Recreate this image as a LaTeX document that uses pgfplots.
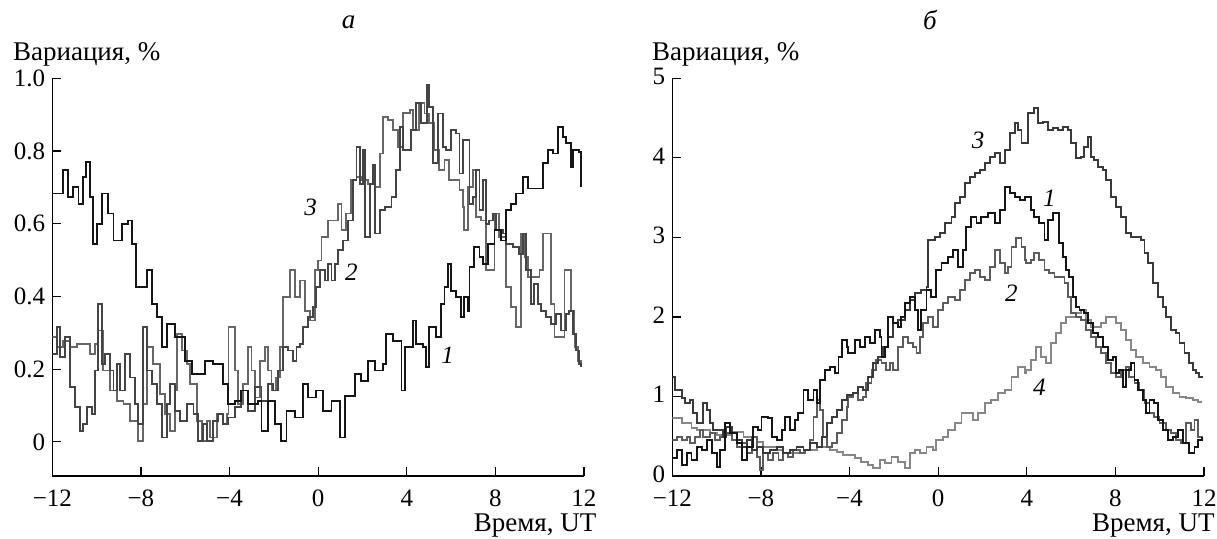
\documentclass[border=0pt]{standalone}
\usepackage{fontspec}
\setmainfont{Liberation Serif}
\usepackage{pgfplots}
\pgfplotsset{compat=1.18}
\definecolor{cA}{HTML}{151515}
\definecolor{cB}{HTML}{444444}
\definecolor{cC}{HTML}{666666}
\definecolor{rB}{HTML}{5C5C5C}
\definecolor{rC}{HTML}{3A3A3A}
\definecolor{rD}{HTML}{878787}
\pgfplotsset{
  panel/.style={
    scale only axis, width=265.85pt, height=198.85pt,
    axis lines=left, axis line style={-, line width=0.6pt, black},
    tick align=inside, major tick length=4.5pt,
    tick style={line width=0.6pt, black},
    xmin=-12, xmax=12, xtick={-12,-8,-4,0,4,8,12},
    xticklabels={−12,−8,−4,0,4,8,12},
    ticklabel style={font=\fontsize{12.5}{14}\selectfont},
    xticklabel style={yshift=-3.5pt},
    every axis plot/.append style={const plot, no marks, line width=0.9pt},
  },
}
\tikzset{lbl/.style={font=\fontsize{12.5}{14}\selectfont\itshape, inner sep=0}}
\begin{document}
\begin{tikzpicture}
\path[use as bounding box] (-26.15pt,-31pt) rectangle (582.35pt,238pt);
\begin{axis}[panel, ymin=-0.094, ymax=1.0, ytick={0,0.2,0.4,0.6,0.8,1.0},
  yticklabels={0,0.2,0.4,0.6,0.8,1.0}]
% curve 3 (light gray)
\addplot[cC] table {
-12 0.288
-11.80 0.260
-11.50 0.278
-11.20 0.260
-10.90 0.269
-10.30 0.242
-10.07 0.269
-9.92 0.306
-9.70 0.196
-9.39 0.141
-9.09 0.113
-8.79 0.104
-8.49 0.058
-8.12 0.003
-7.89 0.104
-7.74 0.260
-7.44 0.214
-7.14 0.131
-6.91 0.076
-6.69 0.030
-6.46 0.141
-6.38 0.297
-6.16 0.251
-5.93 0.214
-5.78 0.159
-5.48 0.058
-5.26 0.003
-5.03 0.058
-4.88 0.012
-4.58 0.076
-4.28 0.049
-4.13 0.076
-4.05 0.315
-3.77 0.196
-3.62 0.104
-3.39 0.159
-3.17 0.260
-3.01 0.196
-2.86 0.122
-2.64 0.223
-2.41 0.260
-2.26 0.196
-2.11 0.141
-1.89 0.177
-1.74 0.260
-1.58 0.398
-1.28 0.472
-1.06 0.398
-0.83 0.444
-0.61 0.361
-0.38 0.334
-0.155 0.472
-0.005 0.499
0.15 0.563
0.45 0.609
0.75 0.609
0.90 0.655
1.05 0.582
1.27 0.628
1.50 0.720
1.73 0.729
1.95 0.720
2.25 0.710
2.55 0.701
2.78 0.793
2.93 0.894
3.16 0.885
3.38 0.858
3.61 0.812
3.83 0.904
4.13 0.913
4.27 0.858
4.57 0.931
4.80 0.903
5.02 0.876
5.25 0.802
5.47 0.747
5.70 0.775
5.92 0.720
6.38 0.692
6.53 0.646
6.60 0.582
6.75 0.701
6.98 0.747
7.13 0.619
7.35 0.609
7.58 0.472
7.96 0.628
8.18 0.563
8.48 0.426
8.71 0.370
8.93 0.315
9.16 0.573
9.31 0.508
9.46 0.453
9.99 0.472
10.14 0.573
10.51 0.380
10.67 0.288
11.12 0.472
11.42 0.361
11.57 0.260
11.72 0.223
11.87 0.205
};
% curve 2 (dark gray)
\addplot[cB] table {
-12 0.242
-11.80 0.315
-11.65 0.233
-11.43 0.288
-11.20 0.150
-10.98 0.095
-10.75 0.030
-10.60 0.049
-10.45 0.095
-10.22 0.076
-10.07 0.196
-9.92 0.380
-9.77 0.214
-9.62 0.242
-9.39 0.196
-9.24 0.141
-9.09 0.214
-8.94 0.141
-8.72 0.242
-8.49 0.177
-8.27 0.104
-8.12 0.049
-7.89 0.315
-7.74 0.196
-7.51 0.159
-7.29 0.104
-7.06 0.012
-6.84 0.104
-6.69 0.159
-6.47 0.085
-6.24 0.058
-5.93 0.104
-5.63 0.076
-5.41 0.003
-5.18 0.049
-5.03 0.003
-4.73 0.058
-4.51 0.076
-4.28 0.049
-4.07 0.067
-3.77 0.095
-3.47 0.141
-3.17 0.085
-2.86 0.150
-2.56 0.113
-2.26 0.159
-2.04 0.141
-1.81 0.196
-1.58 0.260
-1.36 0.251
-1.13 0.223
-0.98 0.260
-0.83 0.269
-0.68 0.315
-0.46 0.343
-0.23 0.370
-0.08 0.426
0.07 0.472
0.30 0.444
0.45 0.490
0.60 0.444
0.75 0.490
0.90 0.527
1.12 0.554
1.35 0.609
1.58 0.720
1.73 0.812
1.88 0.710
2.03 0.802
2.10 0.563
2.33 0.710
2.48 0.761
2.55 0.573
2.78 0.637
3.00 0.646
3.31 0.674
3.53 0.747
3.68 0.867
3.83 0.802
4.19 0.858
4.42 0.931
4.64 0.876
4.90 0.982
5.02 0.922
5.17 0.766
5.40 0.903
5.62 0.812
5.77 0.802
6.00 0.858
6.23 0.848
6.38 0.738
6.53 0.830
6.83 0.655
6.98 0.674
7.13 0.747
7.28 0.637
7.43 0.720
7.58 0.600
7.73 0.609
7.88 0.628
8.03 0.582
8.33 0.573
8.48 0.545
8.78 0.536
9.08 0.517
9.23 0.573
9.39 0.472
9.61 0.380
9.76 0.435
9.91 0.380
10.06 0.361
10.29 0.343
10.51 0.324
10.74 0.352
10.97 0.306
11.19 0.352
11.34 0.361
11.49 0.297
11.64 0.251
11.79 0.214
11.87 0.205
};
% curve 1 (black)
\addplot[cA] table {
-12 0.683
-11.50 0.747
-11.28 0.674
-11.05 0.701
-10.82 0.655
-10.60 0.729
-10.48 0.770
-10.30 0.674
-10.15 0.545
-10.00 0.600
-9.77 0.683
-9.47 0.628
-9.24 0.554
-8.87 0.600
-8.57 0.609
-8.42 0.545
-8.22 0.426
-7.74 0.472
-7.51 0.380
-7.29 0.343
-7.06 0.260
-6.84 0.324
-6.47 0.288
-6.01 0.223
-5.71 0.187
-5.11 0.223
-4.73 0.214
-4.28 0.159
-4.07 0.104
-3.77 0.113
-3.47 0.141
-3.17 0.104
-2.71 0.113
-2.56 0.030
-2.26 0.113
-1.96 0.049
-1.66 0.003
-1.43 0.085
-1.06 0.067
-0.68 0.159
-0.46 0.122
-0.08 0.141
0.22 0.085
0.60 0.113
0.97 0.012
1.20 0.127
1.65 0.187
1.95 0.168
2.25 0.223
2.55 0.196
2.93 0.214
3.08 0.297
3.38 0.278
3.76 0.141
3.91 0.260
4.27 0.334
4.42 0.269
4.72 0.260
4.87 0.205
5.02 0.315
5.32 0.288
5.55 0.380
5.70 0.426
5.85 0.490
6.00 0.416
6.23 0.398
6.45 0.343
6.60 0.398
6.75 0.361
6.83 0.481
7.05 0.536
7.28 0.508
7.43 0.490
7.66 0.545
7.96 0.582
8.26 0.554
8.48 0.637
8.71 0.655
8.93 0.683
9.24 0.729
9.46 0.697
10.14 0.766
10.36 0.802
10.59 0.793
10.82 0.867
11.04 0.839
11.19 0.821
11.42 0.756
11.49 0.802
11.79 0.798
11.87 0.701
};
\node[lbl] at (axis cs:-0.34,0.646) {3};
\node[lbl] at (axis cs:1.50,0.467) {2};
\node[lbl] at (axis cs:5.85,0.237) {1};
\end{axis}
\begin{axis}[panel, at={(310pt,0pt)}, ymin=0, ymax=5, ytick={0,1,2,3,4,5},
  yticklabels={0,1,2,3,4,5}, yticklabel style={yshift=1pt}]
% curve 4 (light gray)
\addplot[rD] table {
-12 0.725
-11.58 0.662
-11.13 0.599
-10.90 0.578
-10.30 0.536
-10.00 0.516
-9.40 0.557
-8.79 0.495
-8.19 0.432
-7.89 0.369
-7.29 0.327
-6.99 0.285
-6.39 0.285
-6.08 0.327
-5.48 0.369
-4.88 0.327
-4.58 0.306
-4.28 0.264
-3.77 0.222
-3.47 0.180
-3.17 0.138
-2.94 0.096
-2.64 0.201
-2.41 0.159
-2.11 0.243
-1.81 0.180
-1.51 0.096
-1.28 0.285
-1.06 0.327
-0.83 0.285
-0.53 0.369
-0.23 0.327
-0.08 0.453
0.22 0.495
0.45 0.578
0.75 0.662
1.05 0.788
1.35 0.788
1.58 0.704
1.80 0.788
2.10 0.914
2.40 0.956
2.70 1.039
3.00 1.081
3.31 1.249
3.61 1.375
3.91 1.291
3.97 1.333
4.19 1.459
4.42 1.626
4.65 1.501
4.87 1.417
5.10 1.668
5.32 1.794
5.55 1.920
5.77 2.003
6.23 2.045
6.45 2.087
6.68 1.961
6.90 1.878
7.35 1.920
7.58 2.003
8.03 1.920
8.26 1.836
8.48 1.710
8.71 1.584
8.93 1.500
9.24 1.417
9.54 1.375
9.84 1.333
10.06 1.249
10.29 1.123
10.59 1.039
10.89 0.997
11.19 0.977
11.49 0.956
11.72 0.935
11.90 0.935
};
% curve 2 (medium gray)
\addplot[rB] table {
-12 0.453
-11.80 0.495
-11.58 0.453
-11.35 0.495
-11.20 0.411
-10.98 0.495
-10.75 0.578
-10.60 0.495
-10.30 0.536
-10.07 0.453
-9.85 0.495
-9.55 0.536
-9.32 0.453
-9.09 0.369
-8.87 0.411
-8.64 0.285
-8.42 0.495
-8.19 0.243
-8.04 0.075
-7.89 0.285
-7.67 0.201
-7.44 0.285
-7.21 0.201
-6.99 0.285
-6.76 0.243
-6.54 0.327
-6.24 0.285
-6.01 0.327
-5.78 0.453
-5.63 0.746
-5.48 0.956
-5.33 0.830
-5.18 0.495
-5.03 0.369
-4.80 0.411
-4.58 0.536
-4.35 0.704
-4.13 0.872
-4.07 0.997
-3.84 1.039
-3.62 0.956
-3.39 0.997
-3.24 1.165
-3.01 1.333
-2.79 1.459
-2.56 1.417
-2.34 1.333
-2.19 1.417
-2.04 1.333
-1.81 1.626
-1.58 1.752
-1.36 1.668
-1.13 1.626
-0.98 1.542
-0.83 1.752
-0.68 1.920
-0.46 2.003
-0.23 1.878
-0.005 2.087
0.22 2.171
0.45 2.255
0.75 2.213
0.97 2.339
1.20 2.464
1.43 2.548
1.65 2.590
1.88 2.506
2.10 2.464
2.33 2.632
2.55 2.842
2.78 2.674
3.00 2.548
3.16 2.632
3.31 2.884
3.53 2.988
3.76 2.884
3.91 2.716
3.97 2.674
4.19 2.716
4.34 2.800
4.57 2.716
4.80 2.590
5.02 2.548
5.25 2.506
5.70 2.422
5.85 2.255
6.00 2.045
6.23 2.003
6.45 1.961
6.68 1.836
6.90 1.752
7.13 1.626
7.35 1.542
7.58 1.417
7.81 1.291
8.03 1.249
8.26 1.333
8.48 1.375
8.63 1.249
8.86 1.165
9.08 1.081
9.31 0.914
9.54 0.788
9.76 0.746
9.99 0.662
10.29 0.578
10.51 0.536
10.74 0.453
10.97 0.411
11.19 0.662
11.42 0.578
11.57 0.704
11.72 0.495
11.90 0.453
};
% curve 3 (dark gray)
\addplot[rC] table {
-12 1.249
-11.88 1.081
-11.58 0.977
-11.43 0.914
-11.20 0.956
-11.05 0.788
-10.90 0.662
-10.60 0.914
-10.45 0.830
-10.30 0.662
-10.15 0.578
-9.70 0.495
-9.55 0.620
-9.32 0.536
-9.09 0.453
-8.87 0.369
-8.64 0.453
-8.42 0.327
-8.19 0.369
-7.89 0.285
-7.59 0.327
-7.29 0.369
-6.99 0.285
-6.69 0.327
-6.39 0.369
-6.08 0.327
-5.78 0.411
-5.48 0.369
-5.26 0.495
-5.03 0.662
-4.80 0.746
-4.58 0.830
-4.35 0.956
-4.13 1.018
-3.84 1.039
-3.62 1.123
-3.39 1.081
-3.17 1.249
-2.94 1.417
-2.71 1.500
-2.49 1.626
-2.26 1.752
-2.04 1.920
-1.81 1.961
-1.51 2.087
-1.28 2.213
-1.06 2.297
-0.76 2.339
-0.53 2.381
-0.46 2.967
-0.155 3.009
0.07 3.051
0.30 3.177
0.60 3.261
0.75 3.428
0.97 3.512
1.20 3.680
1.43 3.764
1.65 3.806
1.88 3.847
2.10 3.931
2.33 4.015
2.55 4.057
2.78 3.931
3.00 4.099
3.23 4.308
3.46 4.434
3.61 4.350
3.76 4.183
4.06 4.560
4.34 4.623
4.49 4.434
4.72 4.455
4.95 4.350
5.17 4.371
5.40 4.350
5.62 4.392
5.85 4.350
6.00 4.183
6.23 3.994
6.45 4.015
6.60 4.141
6.75 4.267
6.90 4.015
7.05 3.973
7.20 3.889
7.43 3.847
7.58 3.722
7.81 3.512
8.03 3.386
8.26 3.261
8.48 3.051
8.71 3.009
9.16 2.967
9.31 2.800
9.46 2.674
9.69 2.422
9.91 2.255
10.14 2.129
10.29 2.003
10.51 1.836
10.74 1.794
10.89 1.668
11.12 1.542
11.34 1.417
11.49 1.333
11.64 1.291
11.79 1.249
11.90 1.228
};
% curve 1 (black)
\addplot[cA] table {
-12 0.222
-11.80 0.327
-11.58 0.138
-11.35 0.285
-11.13 0.201
-10.90 0.369
-10.67 0.327
-10.45 0.453
-10.22 0.285
-10.00 0.117
-9.85 0.327
-9.62 0.662
-9.40 0.536
-9.09 0.411
-8.87 0.201
-8.64 0.369
-8.34 0.620
-8.12 0.578
-7.97 0.746
-7.67 0.725
-7.51 0.495
-7.29 0.453
-7.06 0.578
-6.91 0.746
-6.69 0.578
-6.46 0.704
-6.31 0.788
-6.08 1.081
-5.86 0.956
-5.63 1.081
-5.48 0.914
-5.33 1.207
-5.10 1.333
-4.88 1.375
-4.65 1.291
-4.50 1.500
-4.35 1.710
-4.13 1.626
-4.07 1.542
-3.77 1.710
-3.54 1.626
-3.32 1.752
-3.09 1.668
-2.86 1.836
-2.64 1.752
-2.56 1.500
-2.41 1.626
-2.26 2.003
-2.04 1.920
-1.81 1.878
-1.66 2.003
-1.51 2.171
-1.28 2.255
-1.06 2.087
-0.91 1.836
-0.76 2.087
-0.53 2.339
-0.31 2.255
-0.08 2.590
0.15 2.674
0.45 2.758
0.67 2.842
0.90 2.632
1.12 2.842
1.27 3.135
1.50 3.261
1.73 3.177
1.95 3.261
2.25 3.303
2.55 3.177
2.78 3.345
3.00 3.638
3.23 3.554
3.46 3.512
3.68 3.470
3.91 3.512
4.19 3.345
4.34 3.261
4.57 3.177
4.80 2.967
4.95 3.219
5.17 3.303
5.47 2.925
5.62 2.758
5.77 2.590
5.92 2.506
6.07 2.255
6.23 2.129
6.38 2.087
6.60 2.045
6.75 1.920
6.98 1.794
7.20 1.752
7.43 1.626
7.66 1.459
7.88 1.500
8.03 1.291
8.18 1.333
8.33 1.123
8.48 1.333
8.71 1.417
8.86 1.207
9.01 1.081
9.24 0.956
9.39 0.788
9.54 0.956
9.76 0.914
9.91 0.704
10.14 0.578
10.36 0.453
10.59 0.495
10.82 0.578
11.04 0.411
11.34 0.285
11.57 0.369
11.72 0.453
11.90 0.495
};
\node[lbl] at (axis cs:1.80,4.22) {3};
\node[lbl] at (axis cs:5.02,3.49) {1};
\node[lbl] at (axis cs:3.31,2.30) {2};
\node[lbl] at (axis cs:4.57,1.12) {4};
\end{axis}
\begin{scope}[every node/.style={inner sep=0, font=\fontsize{13.5}{16}\selectfont}]
\node[anchor=base west] at (-19.8pt,207.65pt) {Вариация, \%};
\node[anchor=base west] at (299.7pt,207.65pt) {Вариация, \%};
\node[anchor=base east] at (272.2pt,-27.85pt) {Время, UT};
\node[anchor=base east] at (581.35pt,-27.85pt) {Время, UT};
\node[anchor=base, font=\fontsize{13.5}{16}\selectfont\itshape] at (148.15pt,223.9pt) {а};
\node[anchor=base, font=\fontsize{13.5}{16}\selectfont\itshape] at (438.85pt,223.4pt) {б};
\end{scope}
\end{tikzpicture}
\end{document}
